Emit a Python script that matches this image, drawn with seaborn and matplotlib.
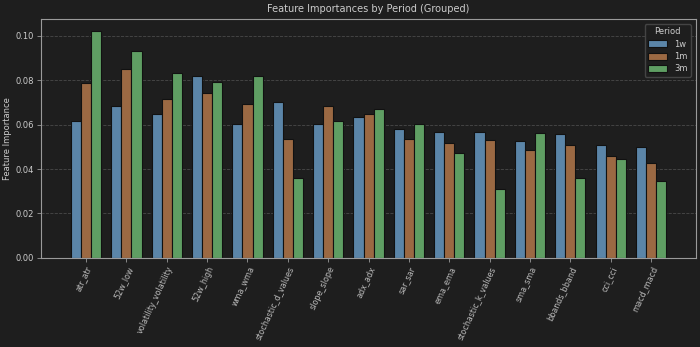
import matplotlib
matplotlib.use("Agg")
import matplotlib.pyplot as plt
import seaborn as sns
import pandas as pd

features = ["atr_atr", "52w_low", "volatility_volatility", "52w_high", "wma_wma",
            "stochastic_d_values", "slope_slope", "adx_adx", "sar_sar", "ema_ema",
            "stochastic_k_values", "sma_sma", "bbands_bband", "cci_cci", "macd_macd"]
periods = ["1w", "1m", "3m"]
imp_1w = [0.0617, 0.0683, 0.0650, 0.0820, 0.0601, 0.0704, 0.0601, 0.0634,
          0.0580, 0.0569, 0.0569, 0.0526, 0.0559, 0.0507, 0.0500]
imp_1m = [0.0788, 0.0850, 0.0715, 0.0742, 0.0694, 0.0535, 0.0683, 0.0649,
          0.0536, 0.0518, 0.0533, 0.0486, 0.0509, 0.0459, 0.0428]
imp_3m = [0.1024, 0.0932, 0.0832, 0.0794, 0.0820, 0.0359, 0.0616, 0.0670,
          0.0602, 0.0471, 0.0311, 0.0562, 0.0362, 0.0445, 0.0347]

df = pd.DataFrame({
    "Feature": features * 3,
    "Period": [p for p in periods for _ in features],
    "Importance": imp_1w + imp_1m + imp_3m,
})

bg = "#1e1e1e"
fg = "#cccccc"
sns.set_theme(style="dark")
plt.rcParams.update({
    "figure.facecolor": bg,
    "axes.facecolor": bg,
    "axes.edgecolor": "#9a9a9a",
    "axes.labelcolor": fg,
    "text.color": fg,
    "xtick.color": fg,
    "ytick.color": fg,
    "font.family": ["DejaVu Sans"],
})

palette = {"1w": "#5b85a8", "1m": "#9b6943", "3m": "#5f9e63"}

fig, ax = plt.subplots(figsize=(7, 3.47), dpi=100)
sns.barplot(data=df, x="Feature", y="Importance", hue="Period",
            hue_order=periods, order=features, palette=palette,
            width=0.75, edgecolor="#111111", linewidth=0.8,
            saturation=1, ax=ax)

ax.set_xlim(-1.11, len(features) - 1 + 1.11)
ax.set_ylim(0, 0.1076)
ax.set_yticks([0.0, 0.02, 0.04, 0.06, 0.08, 0.10])
ax.set_yticklabels([f"{v:.2f}" for v in ax.get_yticks()])
ax.grid(axis="y", linestyle="--", color="#555555", linewidth=0.6, alpha=0.8)
ax.set_axisbelow(True)
ax.tick_params(axis="both", labelsize=6, length=3, width=0.6,
               bottom=True, left=True, color="#9a9a9a", pad=2)
plt.setp(ax.get_xticklabels(), rotation=65, ha="right", rotation_mode="anchor",
         fontsize=5.8, color="#bbbbbb")
ax.set_xlabel("")
ax.set_ylabel("Feature Importance", fontsize=6, labelpad=3)
ax.set_title("Feature Importances by Period (Grouped)", fontsize=7, color=fg, pad=5)
for s in ax.spines.values():
    s.set_color("#9a9a9a")
    s.set_linewidth(0.8)

leg = ax.legend(title="Period", loc="upper right", fontsize=6, title_fontsize=6,
                facecolor=bg, edgecolor="#444444", framealpha=1,
                handlelength=2.3, handleheight=0.9, labelspacing=0.4,
                borderaxespad=0.6)
for t in leg.get_texts():
    t.set_color(fg)
leg.get_title().set_color(fg)

fig.subplots_adjust(left=0.059, right=0.994, top=0.945, bottom=0.257)
fig.savefig("out.png", dpi=100, facecolor=bg)
